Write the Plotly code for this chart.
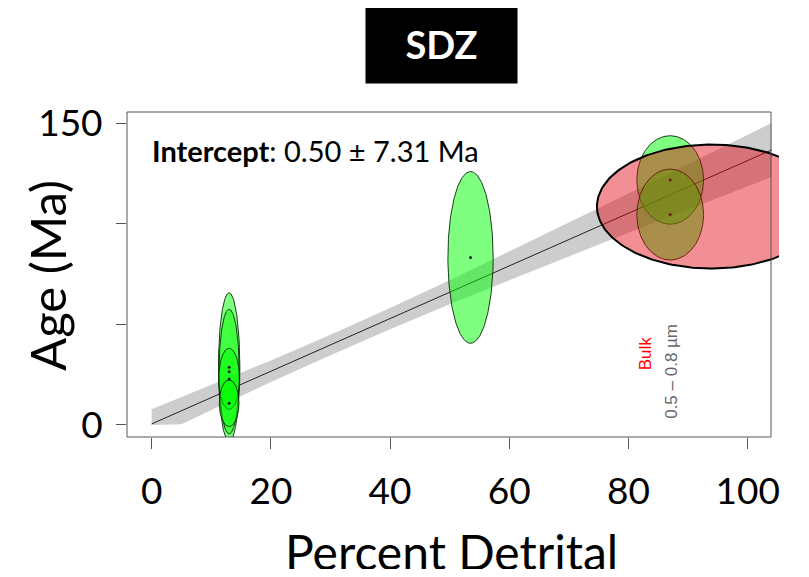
import numpy as np
import plotly.graph_objects as go

# ---------------- data ----------------
# regression line (Age vs Percent Detrital)
line_x = [0, 104]
line_y = [0.5, 136.7]

# confidence band read at several x positions (lower bound stops at 0 Ma)
band_x = [0, 5, 10, 20, 30, 40, 50, 60, 70, 80, 90, 100, 104]
band_upper = [7.8, 13.8, 19.8, 32.1, 44.9, 58.2, 72.0, 86.2, 100.6, 115.1, 129.7, 144.3, 150.1]
band_lower = [0.0, 0.3, 7.4, 21.3, 34.7, 47.6, 60.0, 72.0, 83.8, 95.5, 107.1, 118.7, 123.3]

# green (size fraction) ellipses: centre and half-widths
green_pct = [13.0, 13.0, 13.0, 13.0, 53.5, 87.0, 87.0]
green_age = [28.7, 26.5, 22.9, 10.8, 83.3, 121.8, 104.6]
green_dpct = [1.8, 1.7, 1.75, 1.65, 3.8, 5.6, 5.6]
green_dage = [37.0, 31.0, 15.2, 11.6, 42.7, 22.0, 22.6]

# bulk ellipse (red)
bulk_pct = [93.9]
bulk_age = [108.6]
bulk_dpct = [19.2]
bulk_dage = [30.8]

x_ticks = [0, 20, 40, 60, 80, 100]
y_ticks = [0, 50, 100, 150]
y_ticktext = ["0", "", "", "150"]

intercept_txt = "<b>Intercept</b>: 0.50 ± 7.31 Ma"
title_txt = "SDZ"

# ---------------- figure ----------------
# the page adds an 8px body margin, so the figure is drawn 8px smaller
OFF = 8
W, H = 809 - 2 * OFF, 577 - 2 * OFF
ML, MT = 127 - OFF, 112 - OFF
PLOT_R, PLOT_B = 779 - OFF, 437 - OFF
MR, MB = W - PLOT_R, H - PLOT_B
PW, PH = PLOT_R - ML, PLOT_B - MT


def px2paper(xp, yp):
    """reference-screen pixels -> paper coords"""
    xp -= OFF
    yp -= OFF
    return (xp - ML) / PW, (PLOT_B - yp) / PH


theta = np.linspace(0, 2 * np.pi, 240)

fig = go.Figure()

# confidence band
fig.add_trace(go.Scatter(
    x=band_x + band_x[::-1], y=band_upper + band_lower[::-1],
    fill="toself", fillcolor="rgba(150,150,150,0.48)",
    line=dict(width=0), mode="lines", hoverinfo="skip", showlegend=False))
# regression line
fig.add_trace(go.Scatter(x=line_x, y=line_y, mode="lines",
                         line=dict(color="#222222", width=1), showlegend=False))

# green ellipses
for cx, cy, dx, dy in zip(green_pct, green_age, green_dpct, green_dage):
    fig.add_trace(go.Scatter(
        x=cx + dx * np.cos(theta), y=cy + dy * np.sin(theta),
        fill="toself", fillcolor="rgba(0,255,0,0.5)",
        line=dict(color="rgba(10,40,10,0.9)", width=1),
        mode="lines", showlegend=False))
fig.add_trace(go.Scatter(x=green_pct, y=green_age, mode="markers",
                         marker=dict(color="#222222", size=3), showlegend=False))

# bulk ellipse
for cx, cy, dx, dy in zip(bulk_pct, bulk_age, bulk_dpct, bulk_dage):
    fig.add_trace(go.Scatter(
        x=cx + dx * np.cos(theta), y=cy + dy * np.sin(theta),
        fill="toself", fillcolor="rgba(225,0,12,0.44)",
        line=dict(color="black", width=2),
        mode="lines", showlegend=False))

XSCALE = 5.96
x_left = -4.14
x_right = x_left + PW / XSCALE

fig.update_layout(
    width=W, height=H,
    margin=dict(l=ML, r=MR, t=MT, b=MB, pad=0),
    paper_bgcolor="white", plot_bgcolor="white",
    font=dict(family="Lato", color="black"),
    xaxis=dict(range=[x_left, x_right], tickvals=x_ticks, ticks="outside",
               ticklen=11, tickcolor="#555555", showgrid=False, zeroline=False,
               showline=False, tickfont=dict(size=37, family="Lato"),
               ticklabelstandoff=11),
    yaxis=dict(range=[-6.0, 155.6], tickvals=y_ticks, ticktext=y_ticktext,
               ticks="outside", ticklen=10, tickcolor="#555555", showgrid=False,
               zeroline=False, showline=False, tickfont=dict(size=37, family="Lato"),
               ticklabelstandoff=6),
)

# frame
fx1 = (771 - OFF - ML) / PW
fig.add_shape(type="rect", xref="paper", yref="paper", x0=0, x1=fx1, y0=0, y1=1,
              line=dict(color="#555555", width=1), layer="above")

annos = []
# title box
tx, ty = px2paper(441, 44)
annos.append(dict(text="<b>" + title_txt + "</b>", x=tx, y=ty, xref="paper", yref="paper",
                  xanchor="center", yanchor="middle", showarrow=False,
                  font=dict(size=38, color="white", family="Lato"),
                  bgcolor="black", width=151, height=78, borderpad=0))
# intercept
ix, iy = px2paper(150, 150)
annos.append(dict(text=intercept_txt, x=ix, y=iy, xref="paper", yref="paper",
                  xanchor="left", yanchor="middle", showarrow=False,
                  font=dict(size=29, color="black", family="Lato")))
# axis titles
ax_, ay_ = px2paper(451, 551)
annos.append(dict(text="Percent Detrital", x=ax_, y=ay_, xref="paper", yref="paper",
                  xanchor="center", yanchor="middle", showarrow=False,
                  font=dict(size=48, color="black", family="Lato")))
bx_, by_ = px2paper(47, 276)
annos.append(dict(text="Age (Ma)", x=bx_, y=by_, xref="paper", yref="paper",
                  xanchor="center", yanchor="middle", showarrow=False, textangle=-90,
                  font=dict(size=49, color="black", family="Lato")))
# fraction labels
annos.append(dict(text="Bulk", x=83.0, y=35.8, xref="x", yref="y", showarrow=False,
                  textangle=-90, font=dict(size=17, color="red", family="Liberation Sans")))
annos.append(dict(text="0.5 – 0.8 µm", x=87.3, y=26.9, xref="x", yref="y", showarrow=False,
                  textangle=-90, font=dict(size=17, color="#666666", family="Liberation Sans")))
fig.update_layout(annotations=annos)

fig.write_html("out.html")
